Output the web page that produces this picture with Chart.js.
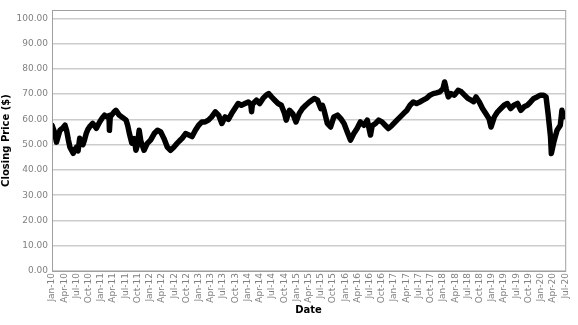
<!DOCTYPE html>
<html>
<head>
<meta charset="utf-8">
<script src="https://cdn.jsdelivr.net/npm/chart.js@4/dist/chart.umd.min.js"></script>
<style>
  html, body { margin: 0; padding: 0; background: #fff; }
  #wrap { width: 578px; height: 325px; }
</style>
</head>
<body>
<div id="wrap"><canvas id="priceChart"></canvas></div>
<script>
// months since Jan-2010 (x) and closing price (y)
const monthIdx = [
  0.0, 0.6, 1.1, 1.95, 2.6, 3.2, 3.6, 4.0, 4.4, 5.2, 5.6, 6.0, 6.4, 6.8, 7.2, 7.6, 8.0, 8.4, 8.8, 9.2,
  10.0, 10.9, 11.7, 12.3, 12.9, 13.5, 14.0, 14.1, 14.3, 15.3, 15.7, 16.5, 17.3, 18.2, 18.6, 19.0, 19.6,
  20.2, 20.6, 21.0, 21.4, 21.8, 22.6, 23.4, 24.2, 25.1, 25.9, 26.7, 27.5, 28.3, 29.1, 29.9, 30.7, 31.3,
  31.9, 32.8, 33.6, 34.4, 35.2, 36.0, 36.8, 37.6, 38.4, 39.2, 40.1, 40.9, 41.7, 42.5, 43.3, 44.1, 44.9,
  45.7, 46.5, 47.4, 48.2, 48.8, 49.0, 49.2, 50.2, 51.0, 51.8, 52.6, 53.2, 53.9, 54.7, 55.5, 56.3, 57.1,
  57.5, 58.3, 59.1, 59.9, 60.7, 61.5, 62.3, 63.2, 64.4, 65.2, 66.0, 66.4, 66.8, 67.6, 68.4, 69.2, 70.1,
  70.9, 71.7, 72.5, 73.3, 74.1, 74.9, 75.7, 76.6, 77.4, 78.2, 78.6, 79.4, 80.2, 81.0, 81.8, 82.6, 83.4,
  84.7, 85.5, 86.3, 87.1, 87.9, 88.7, 89.5, 90.3, 91.1, 91.9, 92.8, 93.6, 94.4, 95.2, 96.0, 96.4, 96.8,
  97.3, 98.0, 98.8, 99.7, 100.5, 101.3, 102.1, 102.9, 103.5, 104.1, 104.9, 105.7, 106.5, 107.3, 107.8,
  108.6, 109.4, 110.2, 111.0, 111.8, 112.6, 113.4, 114.3, 115.1, 115.9, 116.7, 117.5, 118.3, 119.1,
  119.9, 120.7, 121.3, 121.8, 122.4, 122.6, 123.2, 124.0, 124.8, 125.2, 125.6, 126.0
];
const closePrice = [
  57.7, 55, 51, 55.7, 56.5, 57.7, 55.5, 52, 49, 46.6, 48, 49, 47.5, 52.5, 51, 50, 52, 54.4, 56, 57,
  58.4, 56.5, 59, 60.5, 61.7, 61, 61.5, 55.7, 61, 63, 63.6, 61.7, 60.8, 59.7, 57.5, 54.4, 50.6,
  52.4, 47.8, 50, 55.7, 51.5, 47.8, 50.5, 51.8, 54.4, 55.7, 55, 52.4, 49.1, 47.8, 49, 50.5, 51.5,
  52.4, 54.4, 53.8, 53.2, 55.7, 57.7, 59, 59, 59.7, 61, 63, 61.7, 58.4, 61, 60, 62.3, 64.3,
  66.3, 65.6, 66.3, 66.9, 66, 63, 66, 67.6, 66.3, 68.3, 69.6, 70.2, 68.9, 67.6, 66.3, 65.6, 62.3,
  59.7, 63.6, 62.3, 59, 62.3, 64.3, 65.6, 66.9, 68.3, 67.6, 64.3, 65.6, 63.6, 58.4, 57, 61, 61.7,
  60.3, 58.4, 55, 51.8, 54.4, 56.4, 59, 57.7, 59.7, 53.8, 57.5, 58.4, 59.7, 59, 57.7, 56.4, 57.5,
  59.7, 61, 62.3, 63.5, 65.6, 66.9, 66.3, 66.9, 67.6, 68.3, 69.6, 70.2, 70.5, 70.9, 72.2, 74.8, 72,
  68.9, 70.2, 69.6, 71.5, 70.9, 69.6, 68.3, 67.6, 67, 68.9, 66.9, 64.3, 62.3, 60.3, 57,
  61, 63, 64.3, 65.6, 66.3, 64.3, 65.6, 66.3, 63.6, 65, 65.6, 66.9, 68.3, 68.9,
  69.6, 69.6, 68.9, 62.3, 53, 46.5, 51, 55.7, 57.7, 63.6, 61, 62
];
// quarterly tick labels, one every 3 months
const tickLabels = [
  "Jan-10", "Apr-10", "Jul-10", "Oct-10", "Jan-11", "Apr-11", "Jul-11", "Oct-11",
  "Jan-12", "Apr-12", "Jul-12", "Oct-12", "Jan-13", "Apr-13", "Jul-13", "Oct-13",
  "Jan-14", "Apr-14", "Jul-14", "Oct-14", "Jan-15", "Apr-15", "Jul-15", "Oct-15",
  "Jan-16", "Apr-16", "Jul-16", "Oct-16", "Jan-17", "Apr-17", "Jul-17", "Oct-17",
  "Jan-18", "Apr-18", "Jul-18", "Oct-18", "Jan-19", "Apr-19", "Jul-19", "Oct-19",
  "Jan-20", "Apr-20", "Jul-20"
];
const yTicks = [0, 10, 20, 30, 40, 50, 60, 70, 80, 90, 100];

const points = monthIdx.map((m, i) => ({ x: m, y: closePrice[i] }));

// рамка вокруг области графика
const frame = {
  id: "frame",
  afterDraw(chart) {
    const a = chart.chartArea, c = chart.ctx;
    c.save();
    c.strokeStyle = "#a0a0a0";
    c.lineWidth = 1;
    c.strokeRect(a.left + 0.5, a.top + 0.5, a.right - a.left, a.bottom - a.top);
    c.restore();
  }
};

Chart.defaults.font.family = "'DejaVu Sans', Verdana, sans-serif";
Chart.defaults.animation = false;

new Chart(document.getElementById("priceChart"), {
  type: "line",
  data: {
    datasets: [{
      data: points,
      borderColor: "#000",
      borderWidth: 5.5,
      pointRadius: 0,
      tension: 0,
      borderJoinStyle: "round",
      borderCapStyle: "round"
    }]
  },
  options: {
    responsive: true,
    maintainAspectRatio: false,
    layout: { padding: { top: 10, right: 7, left: 0, bottom: 0 } },
    plugins: { legend: { display: false }, tooltip: { enabled: false } },
    scales: {
      x: {
        type: "linear",
        min: 0,
        max: 126,
        afterBuildTicks: (axis) => { axis.ticks = tickLabels.map((_, i) => ({ value: i * 3 })); },
        afterFit: (axis) => { axis.height = 54; },
        ticks: {
          autoSkip: false,
          maxRotation: 90,
          minRotation: 90,
          padding: 2,
          color: "#808080",
          font: { size: 9 },
          callback: (v) => tickLabels[Math.round(v / 3)]
        },
        grid: { drawOnChartArea: false, drawTicks: false },
        border: { color: "#a0a0a0" },
        title: {
          display: true,
          text: "Date",
          color: "#000",
          font: { size: 10, weight: "bold" },
          padding: { top: 0, bottom: 9 }
        }
      },
      y: {
        min: 0,
        max: 103.3,
        afterBuildTicks: (axis) => { axis.ticks = yTicks.map((v) => ({ value: v })); },
        afterFit: (axis) => { axis.width = 52; },
        ticks: {
          padding: 4,
          color: "#808080",
          font: { size: 9 },
          callback: (v) => v.toFixed(2)
        },
        grid: { color: "#cccccc", lineWidth: 1.5, drawTicks: false },
        border: { color: "#a0a0a0" },
        title: {
          display: true,
          text: "Closing Price ($)",
          color: "#000",
          font: { size: 10, weight: "bold" },
          padding: { top: 0, bottom: 0 }
        }
      }
    }
  },
  plugins: [frame]
});
</script>
</body>
</html>
